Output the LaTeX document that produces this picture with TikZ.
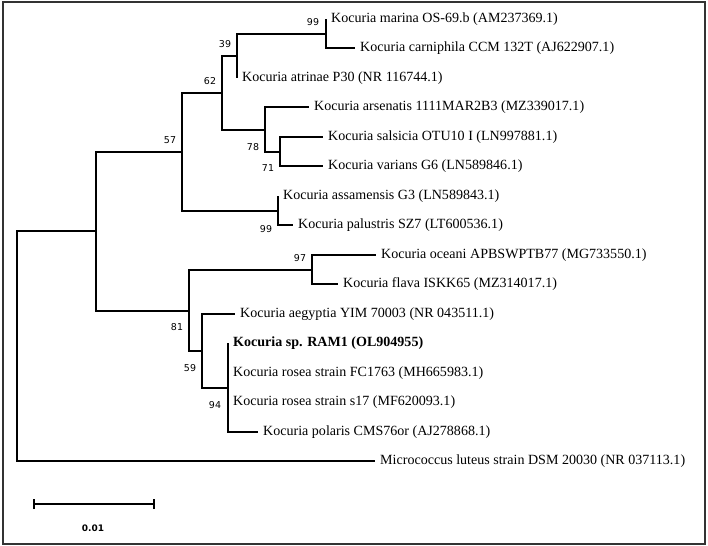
\documentclass[tikz,border=0pt]{standalone}
\usepackage{fontspec}
\setmainfont{Liberation Serif}
\newfontfamily\bootfont{DejaVu Sans}
\usetikzlibrary{positioning}
\definecolor{grey800}{HTML}{333333}
\tikzset{
  leaf/.style     ={anchor=west, inner xsep=5bp, inner ysep=1bp,
                    font=\fontsize{14.1}{16}\selectfont},
  leafb/.style    ={leaf, font=\fontsize{14.1}{16}\selectfont\bfseries},
  branch/.style   ={draw=black, line width=2bp, line join=miter},
  boot/.style     ={font=\bootfont\fontsize{9.5}{11}\selectfont,
                    inner sep=0pt},
  plotframe/.style={draw=grey800, line width=2bp},
  scaletxt/.style ={font=\bootfont\bfseries\fontsize{9}{11}\selectfont,
                    inner sep=0pt}
}

\begin{document}
\begin{tikzpicture}[x=1bp,y=-1bp]
\useasboundingbox (0,0) rectangle (708,546);
\draw[plotframe] (3,2) rectangle (705,544);

\coordinate (root) at (17,346);
\coordinate (kocu) at (96,231);
\coordinate (n57)  at (182,152);
\coordinate (n62)  at (222,93);
\coordinate (n39)  at (237,56);
\coordinate (n99a) at (326,34);
\coordinate (n78)  at (265,130);
\coordinate (n71)  at (280,152);
\coordinate (n99b) at (278,211);
\coordinate (n81)  at (189,311);
\coordinate (n97)  at (312,270);
\coordinate (n59)  at (202,351);
\coordinate (n94)  at (228,388);

\node[leaf] (marina) at (326,19)  {Kocuria marina OS-69.b (AM237369.1)};
\node[leaf] (carni)  at (355,48)  {Kocuria carniphila CCM 132T (AJ622907.1)};
\node[leaf] (atrin)  at (237,78)  {Kocuria atrinae P30 (NR 116744.1)};
\node[leaf] (arsen)  at (309,107) {Kocuria arsenatis 1111MAR2B3 (MZ339017.1)};
\node[leaf] (salsi)  at (323,137) {Kocuria salsicia OTU10 I (LN997881.1)};
\node[leaf] (vari)   at (323,166) {Kocuria varians G6 (LN589846.1)};
\node[leaf] (assam)  at (278,196) {Kocuria assamensis G3 (LN589843.1)};
\node[leaf] (palus)  at (293,225) {Kocuria palustris SZ7 (LT600536.1)};
\node[leaf] (ocean)  at (376,255) {Kocuria oceani APBSWPTB77 (MG733550.1)};
\node[leaf] (flava)  at (338,284) {Kocuria flava ISKK65 (MZ314017.1)};
\node[leaf] (aegyp)  at (235,314) {Kocuria aegyptia YIM 70003 (NR 043511.1)};
\node[leafb] (ram)   at (228,343) {Kocuria sp. RAM1 (OL904955)};
\node[leaf] (rosfc)  at (228,373) {Kocuria rosea strain FC1763 (MH665983.1)};
\node[leaf] (ross)   at (228,402) {Kocuria rosea strain s17 (MF620093.1)};
\node[leaf] (polar)  at (258,432) {Kocuria polaris CMS76or (AJ278868.1)};
\node[leaf] (micro)  at (375,461) {Micrococcus luteus strain DSM 20030 (NR 037113.1)};

\draw[branch] (root) |- (kocu) (root) |- (micro.west);
\draw[branch] (kocu) |- (n57) (kocu) |- (n81);
\draw[branch] (n57) |- (n62) (n57) |- (n99b);
\draw[branch] (n62) |- (n39) (n62) |- (n78);
\draw[branch] (n39) |- (n99a) (n39) |- (atrin.west);
\draw[branch] (n99a) |- (marina.west) (n99a) |- (carni.west);
\draw[branch] (n78) |- (arsen.west) (n78) |- (n71);
\draw[branch] (n71) |- (salsi.west) (n71) |- (vari.west);
\draw[branch] (n99b) |- (assam.west) (n99b) |- (palus.west);
\draw[branch] (n81) |- (n97) (n81) |- (n59);
\draw[branch] (n97) |- (ocean.west) (n97) |- (flava.west);
\draw[branch] (n59) |- (aegyp.west) (n59) |- (n94);
\draw[branch] (n94) |- (ram.west) (n94) |- (rosfc.west)
              (n94) |- (ross.west) (n94) |- (polar.west);

\node[boot] (b99a) at (313,22)  {99};
\node[boot] (b39)  at (225,44)  {39};
\node[boot] (b62)  at (210,81)  {62};
\node[boot] (b57)  at (170,140) {57};
\node[boot] (b78)  at (253,147) {78};
\node[boot] (b71)  at (268,168) {71};
\node[boot] (b99b) at (266,229) {99};
\node[boot] (b97)  at (300,258) {97};
\node[boot] (b81)  at (177,327) {81};
\node[boot] (b59)  at (190,368) {59};
\node[boot] (b94)  at (215,405) {94};

\coordinate (sbl) at (34,504);
\coordinate (sbr) at (154,504);
\draw[branch] (sbl) -- (sbr);
\draw[branch] ([yshift=-5bp]sbl) -- ([yshift=5bp]sbl)
              ([yshift=-5bp]sbr) -- ([yshift=5bp]sbr);
\node[scaletxt] (sbtext) at (93,528) {0.01};
\end{tikzpicture}
\end{document}
